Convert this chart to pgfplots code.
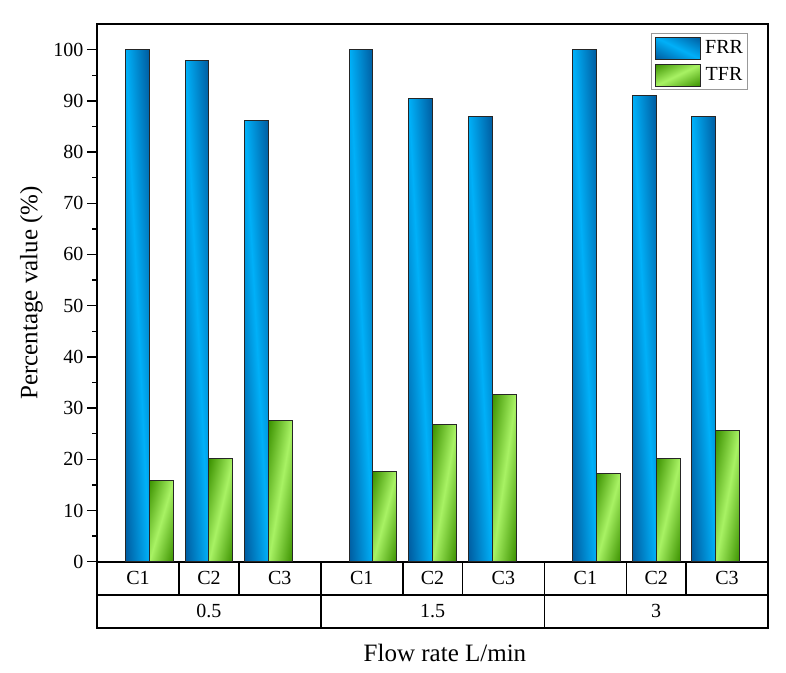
\documentclass[border=0pt]{standalone}
\usepackage{fontspec}
\setmainfont{Liberation Serif}
\usepackage{pgfplots}
\pgfplotsset{compat=1.18}
\definecolor{blight}{RGB}{0,176,248}
\definecolor{bdark}{RGB}{0,92,160}
\definecolor{glight}{RGB}{168,242,100}
\definecolor{gdark}{RGB}{60,146,0}
\pgfdeclareverticalshading{blueshade}{100bp}{color(0bp)=(bdark); color(15bp)=(bdark); color(50bp)=(blight); color(85bp)=(bdark); color(100bp)=(bdark)}
\pgfdeclareverticalshading{greenshade}{100bp}{color(0bp)=(gdark); color(15bp)=(gdark); color(50bp)=(glight); color(85bp)=(gdark); color(100bp)=(gdark)}
\tikzset{boxline/.style={line width=1.6pt, black},
  catlab/.style={font=\fontsize{20}{24}\selectfont, anchor=center}}
\pgfplotsset{
  fbar/.style={ybar, bar width=0.4, bar shift=-0.2, shading=blueshade, draw=black!85, line width=1pt,
    /utils/exec={\pgfsetadditionalshadetransform{\pgftransformrotate{-45}}}},
  tbar/.style={ybar, bar width=0.4, bar shift=0.2, shading=greenshade, draw=black!85, line width=1pt,
    /utils/exec={\pgfsetadditionalshadetransform{\pgftransformrotate{45}}}},
}
\begin{document}
\begin{tikzpicture}
\path[use as bounding box] (-97pt,-110.3pt) rectangle (689pt,561.7pt);
\begin{axis}[
  at={(0pt,0pt)}, anchor=south west,
  scale only axis, width=671pt, height=537.7pt,
  xmin=-0.877, xmax=10.375, ymin=0, ymax=105,
  xtick=\empty,
  ytick={0,10,...,100}, minor y tick num=1,
  ytick pos=left, tick align=outside,
  major tick length=10pt, minor tick length=5pt,
  tick style={black, line width=1.4pt},
  axis line style={line width=1.6pt},
  tick label style={font=\fontsize{20}{24}\selectfont},
  /pgf/number format/assume math mode=true,
  ylabel={Percentage value (\%)},
  ylabel style={at={(axis description cs:-0.0976,0.5)}, anchor=center, font=\fontsize{25}{30}\selectfont},
  xlabel={Flow rate L/min},
  xlabel style={at={(axis description cs:0.5186,-0.1865)}, anchor=base, font=\fontsize{25}{30}\selectfont},
  clip=false,
  legend style={at={(0.970,0.983)}, anchor=north east, draw=black!40, line width=0.8pt,
    font=\fontsize{20}{22}\selectfont, inner xsep=3pt, inner ysep=3pt, row sep=4pt,
    nodes={inner sep=1.5pt},
    /tikz/every odd column/.append style={column sep=3pt}},
  legend image code/.code={\draw[#1] (0pt,-11pt) rectangle (45pt,11pt);},
]
\addplot[fbar] coordinates {(0,100)};
\addplot[tbar] coordinates {(0,15.8)};
\addplot[fbar, forget plot] coordinates {(1,97.8)};
\addplot[fbar, forget plot] coordinates {(2,86.2)};
\addplot[fbar, forget plot] coordinates {(3.75,100)};
\addplot[fbar, forget plot] coordinates {(4.75,90.4)};
\addplot[fbar, forget plot] coordinates {(5.75,87.0)};
\addplot[fbar, forget plot] coordinates {(7.5,100)};
\addplot[fbar, forget plot] coordinates {(8.5,91.1)};
\addplot[fbar, forget plot] coordinates {(9.5,87.0)};
\addplot[tbar, forget plot] coordinates {(1,20.1)};
\addplot[tbar, forget plot] coordinates {(2,27.5)};
\addplot[tbar, forget plot] coordinates {(3.75,17.7)};
\addplot[tbar, forget plot] coordinates {(4.75,26.8)};
\addplot[tbar, forget plot] coordinates {(5.75,32.6)};
\addplot[tbar, forget plot] coordinates {(7.5,17.3)};
\addplot[tbar, forget plot] coordinates {(8.5,20.1)};
\addplot[tbar, forget plot] coordinates {(9.5,25.6)};
\legend{FRR,TFR}
% category boxes
\draw[boxline] (axis cs:-0.877,0) -- (axis cs:-0.877,-12.9) -- (axis cs:10.375,-12.9) -- (axis cs:10.375,0);
\draw[boxline] (axis cs:-0.877,-6.45) -- (axis cs:10.375,-6.45);
\draw[boxline] (axis cs:0.5,0) -- (axis cs:0.5,-6.45);
\draw[boxline] (axis cs:1.5,0) -- (axis cs:1.5,-6.45);
\draw[boxline] (axis cs:4.25,0) -- (axis cs:4.25,-6.45);
\draw[boxline] (axis cs:5.25,0) -- (axis cs:5.25,-6.45);
\draw[boxline] (axis cs:8.0,0) -- (axis cs:8.0,-6.45);
\draw[boxline] (axis cs:9.0,0) -- (axis cs:9.0,-6.45);
\draw[boxline] (axis cs:2.875,0) -- (axis cs:2.875,-12.9);
\draw[boxline] (axis cs:6.625,0) -- (axis cs:6.625,-12.9);
\node[catlab] at (axis cs:-0.1885,-3.225) {C1};
\node[catlab] at (axis cs:1,-3.225) {C2};
\node[catlab] at (axis cs:2.1875,-3.225) {C3};
\node[catlab] at (axis cs:3.5625,-3.225) {C1};
\node[catlab] at (axis cs:4.75,-3.225) {C2};
\node[catlab] at (axis cs:5.9375,-3.225) {C3};
\node[catlab] at (axis cs:7.3125,-3.225) {C1};
\node[catlab] at (axis cs:8.5,-3.225) {C2};
\node[catlab] at (axis cs:9.6875,-3.225) {C3};
\node[catlab] at (axis cs:1,-9.675) {0.5};
\node[catlab] at (axis cs:4.75,-9.675) {1.5};
\node[catlab] at (axis cs:8.5,-9.675) {3};
\end{axis}
\end{tikzpicture}
\end{document}
